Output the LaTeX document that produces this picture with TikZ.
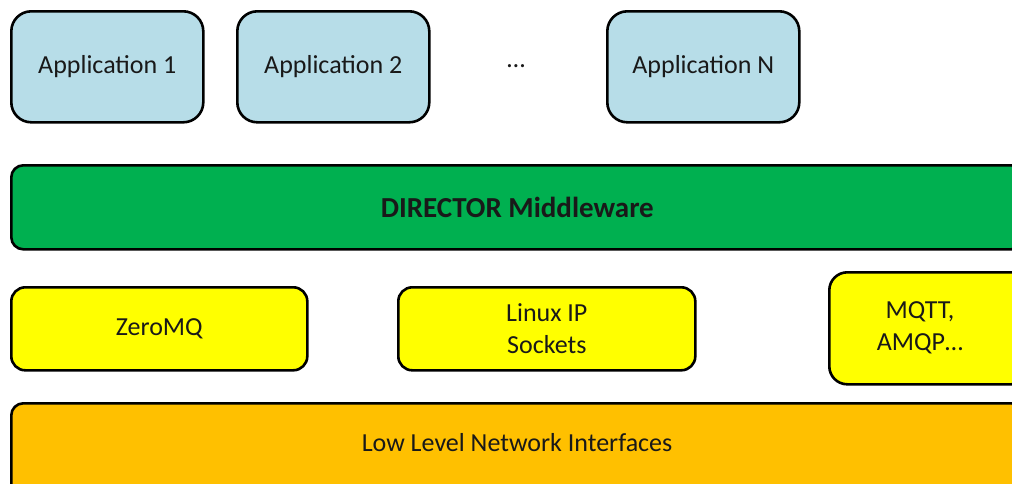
\documentclass[tikz,border=0pt]{standalone}
\usepackage{fontspec}
\setmainfont{Carlito}
\definecolor{appblue}{HTML}{B7DDE8}
\definecolor{midgreen}{HTML}{00B050}
\definecolor{protoyellow}{HTML}{FFFF00}
\definecolor{netorange}{HTML}{FFC000}
\tikzset{
  labeltext/.style={font=\fontsize{26}{32}\selectfont, text=black!90, align=center},
  layerbox/.style={draw=black, line width=2.6pt, rounded corners=#1, anchor=north west, inner sep=0pt, labeltext},
  layerbox/.default=14pt
}
\begin{document}
\begin{tikzpicture}[x=1pt,y=-1pt]
\clip (0,0) rectangle (1012,483);
\fill[white] (0,0) rectangle (1012,483);
\node[layerbox=20pt, fill=appblue, minimum width=192pt, minimum height=111pt] (app1) at (10,10) {Application 1};
\node[layerbox=20pt, fill=appblue, minimum width=192pt, minimum height=111pt] (app2) at (236,10) {Application 2};
\node[labeltext] (dots) at (516,66) {\ldots};
\node[layerbox=20pt, fill=appblue, minimum width=192pt, minimum height=111pt] (appn) at (606,10) {Application N};
\node[layerbox=12pt, fill=midgreen, minimum width=1012pt, minimum height=84pt, font=\fontsize{29}{34}\selectfont\bfseries] (mid) at (10,164) {DIRECTOR Middleware};
\node[layerbox=14pt, fill=protoyellow, minimum width=296pt, minimum height=83pt] (zmq) at (10,286) {ZeroMQ};
\node[layerbox=14pt, fill=protoyellow, minimum width=297pt, minimum height=83pt] (linux) at (397,286) {Linux IP\\Sockets};
\node[layerbox=18pt, fill=protoyellow, minimum width=200pt, minimum height=112pt] (mqtt) at (828,271) {};
\node[labeltext] (mqtttext) at (920,328) {MQTT,\\AMQP\ldots};
\node[layerbox=12pt, fill=netorange, minimum width=1012pt, minimum height=100pt] (net) at (10,402) {};
\node[labeltext] (nettext) at (517,443) {Low Level Network Interfaces};
\end{tikzpicture}
\end{document}
